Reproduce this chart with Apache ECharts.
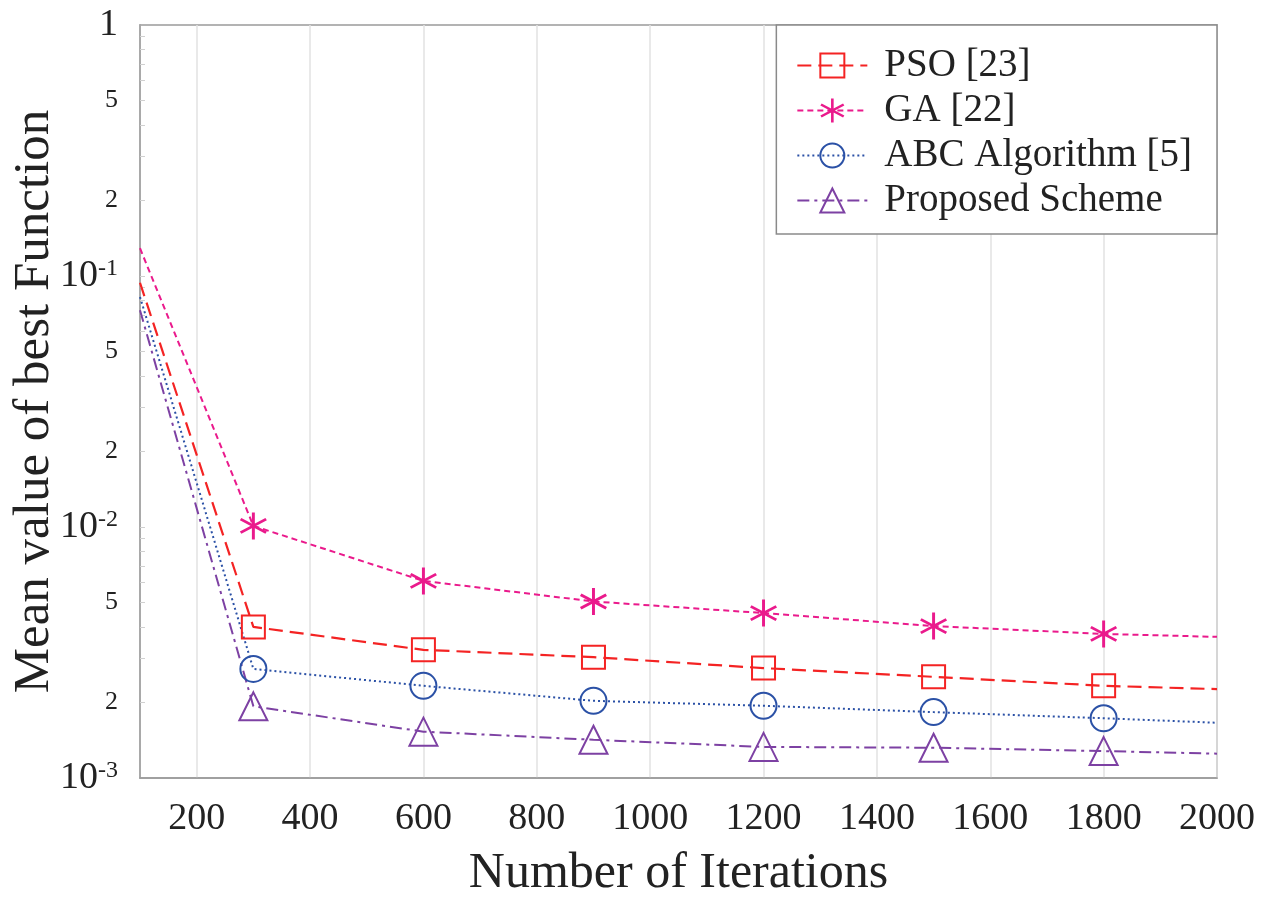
<html>
<head>
<meta charset="UTF-8">
<script src="https://cdn.jsdelivr.net/npm/echarts@6/dist/echarts.min.js"></script>
<style>
  html, body { margin: 0; padding: 0; background: #fff; }
  #main { width: 1277px; height: 902px; }
</style>
</head>
<body>
<div id="main"></div>
<script>
  // iterations (first and last points have no marker)
  var iterations = [100, 300, 600, 900, 1200, 1500, 1800, 2000];
  var psoData      = [0.094, 0.0040, 0.00324, 0.00303, 0.00274, 0.00253, 0.00233, 0.00226];
  var gaData       = [0.129, 0.0101, 0.0061, 0.00505, 0.00454, 0.00403, 0.00375, 0.00365];
  var abcData      = [0.0825, 0.00272, 0.00233, 0.00203, 0.00194, 0.00183, 0.00173, 0.00166];
  var proposedData = [0.073, 0.00193, 0.00153, 0.00142, 0.00133, 0.00132, 0.00128, 0.00125];

  var xTicks = [200, 400, 600, 800, 1000, 1200, 1400, 1600, 1800, 2000];
  var yTickValues = [0.001, 0.002, 0.005, 0.01, 0.02, 0.05, 0.1, 0.2, 0.5, 1];
  var yTickLabels = ['10^-3', '2', '5', '10^-2', '2', '5', '10^-1', '2', '5', '1'];
  // small log ticks along the left axis
  var yMinorTicks = [0.002, 0.003, 0.004, 0.005, 0.006, 0.007, 0.008, 0.009, 0.01,
                     0.02, 0.03, 0.04, 0.05, 0.06, 0.07, 0.08, 0.09, 0.1,
                     0.2, 0.3, 0.4, 0.5, 0.6, 0.7, 0.8, 0.9];

  var FONT = '"Liberation Serif", "DejaVu Serif", serif';
  // asterisk marker (vertical bar + two diagonals)
  var ASTERISK = 'path://M-1 -10L1 -10L1 10L-1 10Z' +
    'M-8.16 -5.87L9.16 4.13L8.16 5.87L-9.16 -4.13Z' +
    'M-9.16 4.13L8.16 -5.87L9.16 -4.13L-8.16 5.87Z';

  function pts(ys) {
    var out = [];
    for (var i = 0; i < iterations.length; i++) {
      var item = { value: [iterations[i], ys[i]] };
      if (i === 0 || i === iterations.length - 1) item.symbol = 'none';
      out.push(item);
    }
    return out;
  }

  function yLabel(v) {
    for (var i = 0; i < yTickValues.length; i++) {
      if (Math.abs(v - yTickValues[i]) / yTickValues[i] < 1e-6) {
        var t = yTickLabels[i];
        if (t.indexOf('^') > 0) {
          var p = t.split('^');
          return '{b|' + p[0] + '}{s|' + p[1] + '}';
        }
        if (t === '1') return '{b|1}';
        return '{m|' + t + '}';
      }
    }
    return '';
  }

  var myChart = echarts.init(document.getElementById('main'));
  var option = {
    backgroundColor: '#fff',
    animation: false,
    textStyle: { fontFamily: FONT },
    grid: {
      left: 140, right: 60, top: 25, bottom: 124,
      outerBoundsMode: 'none', containLabel: false,
      show: true, borderColor: '#9a9a9a', borderWidth: 1.5
    },
    legend: {
      orient: 'vertical',
      right: 60, top: 25,
      backgroundColor: '#fff',
      borderColor: '#8a8a8a', borderWidth: 1.5, borderRadius: 0,
      padding: [21, 25, 14, 20],
      itemWidth: 70, itemHeight: 30, itemGap: 6,
      textStyle: { fontFamily: FONT, fontSize: 39, color: '#222', padding: [0, 0, 0, 12] },
      data: ['PSO [23]', 'GA [22]', 'ABC Algorithm [5]', 'Proposed Scheme']
    },
    xAxis: {
      type: 'value', min: 100, max: 2000, splitNumber: 10,
      name: 'Number of Iterations', nameLocation: 'middle', nameGap: 71,
      nameMoveOverlap: false,
      nameTextStyle: { fontFamily: FONT, fontSize: 50, color: '#222' },
      axisLine: { show: true, lineStyle: { color: '#9a9a9a', width: 1.5 } },
      axisTick: { show: false },
      axisLabel: {
        customValues: xTicks, fontFamily: FONT, fontSize: 38, color: '#222', margin: 22,
        formatter: function (v) { return String(v); }
      },
      splitLine: { show: true, customValues: xTicks, lineStyle: { color: '#e2e2e2', width: 1.5 } }
    },
    yAxis: {
      type: 'log', logBase: 10, min: 0.001, max: 1,
      name: 'Mean value of best Function', nameLocation: 'middle', nameGap: 80,
      nameMoveOverlap: false,
      nameTextStyle: { fontFamily: FONT, fontSize: 51, color: '#222' },
      axisLine: { show: true, lineStyle: { color: '#9a9a9a', width: 1.5 } },
      axisTick: {
        show: true, inside: true, length: 5, customValues: yMinorTicks,
        lineStyle: { color: '#d0d0d0', width: 1 }
      },
      splitLine: { show: false },
      axisLabel: {
        customValues: yTickValues, margin: 22, formatter: yLabel,
        rich: {
          b: { fontFamily: FONT, fontSize: 38, color: '#222' },
          s: { fontFamily: FONT, fontSize: 24, color: '#222', verticalAlign: 'top' },
          m: { fontFamily: FONT, fontSize: 26, color: '#222' }
        }
      }
    },
    series: [
      {
        name: 'PSO [23]', type: 'line', data: pts(psoData),
        symbol: 'rect', symbolSize: 23, color: '#f42323',
        lineStyle: { color: '#f42323', width: 2.2, type: [14, 7] },
        itemStyle: { color: 'transparent', borderColor: '#f42323', borderWidth: 2 }
      },
      {
        name: 'GA [22]', type: 'line', data: pts(gaData),
        symbol: ASTERISK, symbolSize: 27, color: '#ea1a8c',
        lineStyle: { color: '#ea1a8c', width: 2, type: [6, 4] },
        itemStyle: { color: '#ea1a8c', borderWidth: 0 }
      },
      {
        name: 'ABC Algorithm [5]', type: 'line', data: pts(abcData),
        symbol: 'circle', symbolSize: 26, color: '#2b51a6',
        lineStyle: { color: '#2b51a6', width: 2, type: [2, 3] },
        itemStyle: { color: 'transparent', borderColor: '#2b51a6', borderWidth: 2 }
      },
      {
        name: 'Proposed Scheme', type: 'line', data: pts(proposedData),
        symbol: 'triangle', symbolSize: 28, color: '#7d41a3',
        lineStyle: { color: '#7d41a3', width: 2, type: [12, 5, 3, 5] },
        itemStyle: { color: 'transparent', borderColor: '#7d41a3', borderWidth: 2 }
      }
    ]
  };
  myChart.setOption(option);
</script>
</body>
</html>
